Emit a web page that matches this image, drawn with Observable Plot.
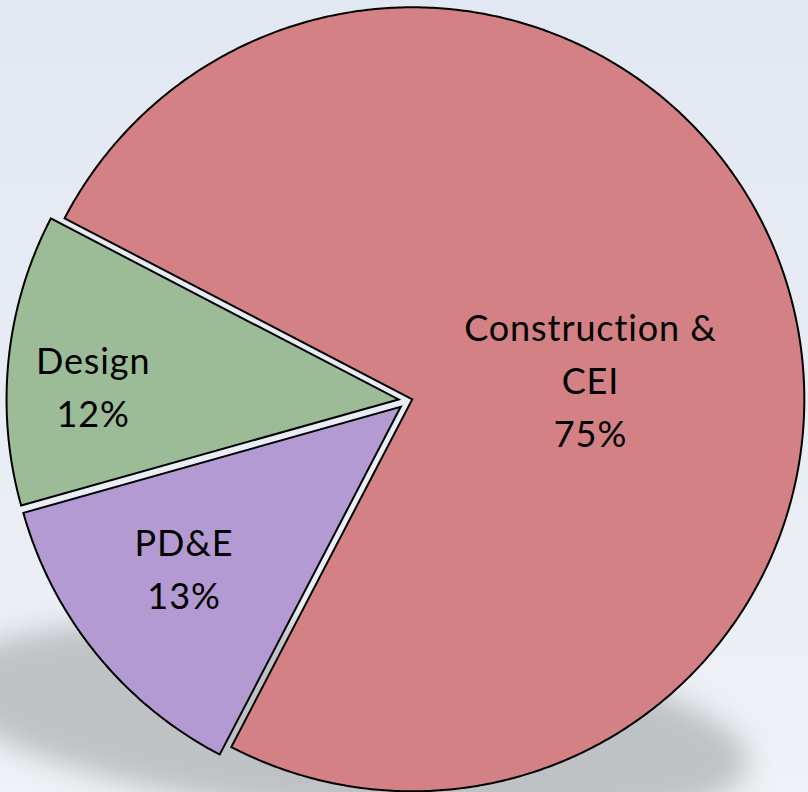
<!DOCTYPE html>
<html>
<head>
<meta charset="utf-8">
<script src="https://cdn.jsdelivr.net/npm/d3@7"></script>
<script src="https://cdn.jsdelivr.net/npm/@observablehq/plot@0.6"></script>
<style>
  html, body { margin: 0; padding: 0; }
  #frame {
    position: relative; width: 808px; height: 792px; overflow: hidden;
    background: linear-gradient(to bottom, #e2e8f2 0%, #e8ecf4 50%, #eef1f5 100%);
  }
  #shadow {
    position: absolute; left: -60px; top: 628px; width: 810px; height: 190px;
    border-radius: 50%; background: #bfc2c5; filter: blur(14px);
    transform: rotate(5.8deg);
  }
  #chart { position: absolute; left: 0; top: 0; }
</style>
</head>
<body>
<div id="frame">
  <div id="shadow"></div>
  <div id="chart"></div>
</div>
<script>
// ---- data ----
const categories = ["Construction & CEI", "PD&E", "Design"];
const labelLines = ["Construction &\nCEI", "PD&E", "Design"];
const shares = [75, 13, 12];
const colors = ["#d38185", "#b39ad2", "#9cbb97"];

// ---- layout (style only) ----
const layout = {
  startAngle: -62.5,            // degrees, clockwise from 12 o'clock
  radius: 1,
  explode: [0.0102, 0.0255, 0.0255],
  labelRadius: [0.458, 0.686, 0.78],
  labelAngleShift: [10.4, 2.8, -3]
};

const rad = d => d * Math.PI / 180;
const total = d3.sum(shares);
let acc = layout.startAngle;
const slices = categories.map((c, i) => {
  const a0 = acc, a1 = acc + shares[i] / total * 360;
  acc = a1;
  const mid = (a0 + a1) / 2;
  const e = layout.explode[i];
  return {c, i, a0, a1, mid, tx: e * Math.sin(rad(mid)), ty: e * Math.cos(rad(mid))};
});

const points = [];
for (const s of slices) {
  points.push({key: s.c, x: s.tx, y: s.ty});
  const n = Math.ceil((s.a1 - s.a0) / 0.5);
  for (let k = 0; k <= n; k++) {
    const a = rad(s.a0 + (s.a1 - s.a0) * k / n);
    points.push({key: s.c, x: s.tx + layout.radius * Math.sin(a), y: s.ty + layout.radius * Math.cos(a)});
  }
}

const labels = slices.map(s => {
  const a = rad(s.mid + layout.labelAngleShift[s.i]);
  const r = layout.labelRadius[s.i];
  return {text: labelLines[s.i] + "\n" + shares[s.i] + "%", x: s.tx + r * Math.sin(a), y: s.ty + r * Math.cos(a)};
});

const chart = Plot.plot({
  width: 808, height: 792, margin: 0,
  x: {domain: [-1.0408, 1.0204], axis: null},
  y: {domain: [-1, 1.0204], axis: null},
  color: {domain: categories, range: colors},
  style: {background: "transparent", overflow: "visible", letterSpacing: "0.9px"},
  marks: [
    Plot.line(points, {x: "x", y: "y", z: "key", fill: "key", stroke: "black", strokeWidth: 2,
      curve: "linear-closed", strokeLinejoin: "miter", strokeMiterlimit: 4}),
    Plot.text(labels, {x: "x", y: "y", text: "text", fontSize: 36, lineHeight: 1.47,
      lineAnchor: "middle", fill: "black", fontFamily: "Lato"})
  ]
});
document.getElementById("chart").appendChild(chart);
</script>
</body>
</html>
